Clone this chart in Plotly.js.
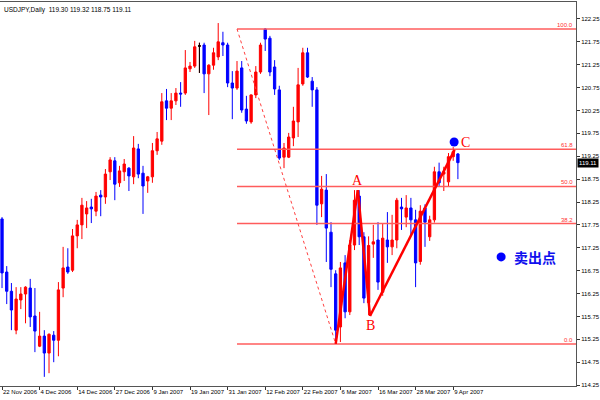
<!DOCTYPE html>
<html><head><meta charset="utf-8">
<script src="https://cdn.plot.ly/plotly-3.0.1.min.js"></script>
<style>body{margin:0;background:#fff}#c{width:600px;height:400px}</style>
</head><body><div id="c"></div>
<script>
const dates = ["2006-11-22","2006-11-23","2006-11-24","2006-11-27","2006-11-28","2006-11-29","2006-11-30",
"2006-12-01","2006-12-04","2006-12-05","2006-12-06","2006-12-07","2006-12-08","2006-12-11","2006-12-12","2006-12-13","2006-12-14","2006-12-15","2006-12-18","2006-12-19","2006-12-20","2006-12-21","2006-12-22","2006-12-26","2006-12-27","2006-12-28","2006-12-29",
"2007-01-02","2007-01-03","2007-01-04","2007-01-05","2007-01-08","2007-01-09","2007-01-10","2007-01-11","2007-01-12","2007-01-15","2007-01-16","2007-01-17","2007-01-18","2007-01-19","2007-01-22","2007-01-23","2007-01-24","2007-01-25","2007-01-26","2007-01-29","2007-01-30","2007-01-31",
"2007-02-01","2007-02-02","2007-02-05","2007-02-06","2007-02-07","2007-02-08","2007-02-09","2007-02-12","2007-02-13","2007-02-14","2007-02-15","2007-02-16","2007-02-19","2007-02-20","2007-02-21","2007-02-22","2007-02-23","2007-02-26","2007-02-27","2007-02-28",
"2007-03-01","2007-03-02","2007-03-05","2007-03-06","2007-03-07","2007-03-08","2007-03-09","2007-03-12","2007-03-13","2007-03-14","2007-03-15","2007-03-16","2007-03-19","2007-03-20","2007-03-21","2007-03-22","2007-03-23","2007-03-26","2007-03-27","2007-03-28","2007-03-29","2007-03-30",
"2007-04-02","2007-04-03","2007-04-04","2007-04-05","2007-04-06","2007-04-09","2007-04-10"];

const openP = [117.88,116.72,116.30,115.45,116.11,116.24,116.37,115.76,115.10,115.32,114.95,115.34,115.23,116.37,116.83,116.76,117.51,117.75,117.99,118.14,118.05,118.40,118.36,118.91,119.15,118.67,118.91,118.99,118.80,119.41,118.88,118.71,118.80,119.37,119.58,120.46,120.30,120.46,120.63,120.63,121.16,121.22,121.66,121.68,121.05,121.24,121.42,121.73,121.68,120.85,120.74,121.18,120.28,120.00,120.59,121.09,122.03,121.83,121.20,120.70,119.23,119.23,119.65,120.00,120.83,121.51,120.89,120.70,118.21,118.51,117.59,116.68,115.52,116.92,115.85,117.31,118.38,117.49,116.05,117.33,117.42,116.28,117.42,117.27,117.42,118.14,117.92,118.12,117.86,116.95,118.12,117.49,117.86,118.91,118.86,118.69,119.24,119.30];
const highP = [117.92,116.85,116.48,116.39,116.39,116.41,116.57,116.37,115.85,115.45,115.38,115.43,116.50,117.27,117.24,117.66,117.86,118.34,118.27,118.32,118.47,118.51,118.97,119.23,119.23,119.04,119.19,119.01,119.69,119.52,119.04,118.82,119.54,119.78,120.63,120.72,120.63,120.74,120.87,121.57,121.31,121.77,121.73,121.73,121.26,121.62,122.16,121.97,121.73,121.11,121.33,121.33,120.57,120.60,121.22,121.73,122.05,121.88,121.35,120.79,119.54,119.76,120.33,121.18,121.62,121.62,120.98,120.76,118.82,118.86,117.81,116.76,116.94,117.09,117.42,118.51,118.51,117.59,117.50,117.75,117.81,117.79,118.03,117.97,118.34,118.34,118.40,118.34,118.08,118.18,118.20,117.95,119.02,119.11,119.02,119.32,119.45,119.32];
const lowP = [116.37,116.02,115.45,115.36,115.91,115.60,115.52,114.97,115.08,114.43,114.51,114.75,114.88,116.17,116.68,116.72,117.24,117.44,117.68,117.79,117.94,117.94,118.21,118.73,118.29,118.58,118.71,118.49,118.64,118.77,117.99,118.45,118.67,119.28,119.50,120.04,120.04,120.37,120.33,120.59,121.09,121.18,121.07,120.63,120.15,121.14,121.35,121.44,120.76,120.06,120.70,120.20,119.96,119.96,120.52,121.05,121.55,121.00,120.59,119.17,118.99,119.21,119.47,119.67,120.79,120.96,120.33,117.75,117.92,116.94,116.39,115.15,115.19,115.71,115.78,117.20,117.31,116.04,115.78,117.03,116.33,116.20,116.92,117.09,117.24,117.64,117.70,117.53,116.39,116.88,117.27,117.40,117.80,118.60,118.49,118.60,119.15,118.75];
const closeP = [116.70,116.30,115.89,116.13,116.24,116.39,115.74,115.43,115.32,114.95,115.36,115.23,116.33,116.81,116.72,117.51,117.75,118.18,118.12,118.10,118.38,118.36,118.86,119.17,118.64,118.93,119.08,118.82,119.43,118.86,118.60,118.80,119.37,119.63,120.44,120.30,120.46,120.63,120.61,121.18,121.22,121.64,121.66,121.05,121.24,121.51,121.75,121.68,120.85,120.74,121.11,120.26,120.02,120.59,121.09,121.68,121.81,121.09,120.72,119.21,119.43,119.67,120.02,120.81,121.51,120.98,120.70,118.18,118.53,117.68,116.78,115.45,116.81,115.85,117.31,118.29,117.49,116.15,117.30,117.38,116.50,117.46,117.27,117.42,118.29,118.10,118.12,117.86,116.92,118.05,117.81,117.86,118.91,118.67,118.91,119.24,119.35,119.11];

const tickDates = ["2006-11-22","2006-12-04","2006-12-14","2006-12-27","2007-01-09","2007-01-19","2007-01-31","2007-02-12","2007-02-22","2007-03-06","2007-03-16","2007-03-28","2007-04-09"];
const tickLabels = ["22 Nov 2006","4 Dec 2006","14 Dec 2006","27 Dec 2006","9 Jan 2007","19 Jan 2007","31 Jan 2007","12 Feb 2007","22 Feb 2007","6 Mar 2007","16 Mar 2007","28 Mar 2007","9 Apr 2007"];
const yTicks = [114.25,114.75,115.25,115.75,116.25,116.75,117.25,117.75,118.25,118.75,119.25,119.75,120.25,120.75,121.25,121.75,122.25];

const fibHigh = 122.03, fibLow = 115.15;
const fibLevels = [0, 38.2, 50, 61.8, 100];
const fibHighDate = "2007-02-02", fibLowDate = "2007-03-05";

const waveNames = ["", "A", "B", "C"];
const wavePos = [71, 75.7, 78.3, 96.3];
const wavePrice = [115.15, 118.51, 115.76, 119.39];
const labelPos = [null, 75.7, 78.3, 98.7];
const labelPrice = [null, 118.73, 115.56, 119.54];

const dotPos = [96.2, 106.2];
const dotPrice = [119.56, 117.05];
const sellText = "卖出点";
const sellPos = 108.5, sellPrice = 117.05;

const header = "USDJPY,Daily  119.30 119.32 118.75 119.11";
const lastClose = closeP[closeP.length - 1];

const RED = "#ff0000", BLUE = "#0000ff";
const xRange = [-0.43, 122.13];

const doji = dates.map((d,i)=>i).filter(i => openP[i] === closeP[i]);

const traces = [{
  type: "candlestick", x: dates, open: openP, high: highP, low: lowP, close: closeP,
  increasing: {line: {color: RED, width: 1}, fillcolor: RED},
  decreasing: {line: {color: BLUE, width: 1}, fillcolor: BLUE},
  whiskerwidth: 0, hoverinfo: "skip", showlegend: false
}, {
  type: "candlestick", x: doji.map(i=>dates[i]), open: doji.map(i=>openP[i]), high: doji.map(i=>highP[i]),
  low: doji.map(i=>lowP[i]), close: doji.map(i=>closeP[i]),
  increasing: {line: {color: "#000", width: 1}, fillcolor: "#000"},
  decreasing: {line: {color: "#000", width: 1}, fillcolor: "#000"},
  whiskerwidth: 0, hoverinfo: "skip", showlegend: false
}];

const fibStart = dates.indexOf(fibHighDate);
const fibEnd = dates.indexOf(fibLowDate);
const shapes = [];
const annotations = [];
fibLevels.forEach(lv => {
  const p = fibLow + (fibHigh - fibLow) * lv / 100;
  shapes.push({type: "line", xref: "x", yref: "y", x0: fibStart, x1: xRange[1], y0: p, y1: p,
    line: {color: "#ff5c5c", width: 1.5}});
  annotations.push({xref: "paper", yref: "y", x: 1, y: p, xanchor: "right", yanchor: "bottom",
    text: lv.toFixed(1), showarrow: false, xshift: -1, yshift: -1,
    font: {family: "Liberation Sans", size: 6, color: "#ff3030"}});
});
shapes.push({type: "line", xref: "x", yref: "y", x0: fibStart, x1: fibEnd, y0: fibHigh, y1: fibLow,
  line: {color: "#ff4040", width: 1, dash: "dot"}});
for (let k = 0; k < wavePos.length - 1; k++) {
  shapes.push({type: "line", xref: "x", yref: "y", x0: wavePos[k], x1: wavePos[k+1],
    y0: wavePrice[k], y1: wavePrice[k+1], line: {color: RED, width: 2.5}});
}
for (let k = 1; k < waveNames.length; k++) {
  annotations.push({xref: "x", yref: "y", x: labelPos[k], y: labelPrice[k], text: waveNames[k],
    showarrow: false, font: {family: "Liberation Serif", size: 14, color: RED}});
}
dotPos.forEach((dp, k) => {
  shapes.push({type: "circle", xref: "x", yref: "y", xsizemode: "pixel", ysizemode: "pixel",
    xanchor: dp, yanchor: dotPrice[k], x0: -4.5, x1: 4.5, y0: -4.5, y1: 4.5,
    fillcolor: BLUE, line: {color: BLUE, width: 0}});
});
annotations.push({xref: "x", yref: "y", x: sellPos, y: sellPrice, xanchor: "left", yanchor: "middle",
  text: "<b>" + sellText + "</b>", showarrow: false,
  font: {family: "Noto Sans CJK SC", size: 14, color: "#1010ee"}});
annotations.push({xref: "paper", yref: "paper", x: 0, y: 1, xanchor: "left", yanchor: "top",
  text: header, showarrow: false, xshift: 2, yshift: -2,
  font: {family: "Liberation Sans", size: 6.5, color: "#000"}});
annotations.push({xref: "paper", yref: "y", x: 1, y: lastClose, xanchor: "left", yanchor: "middle",
  text: lastClose.toFixed(2), showarrow: false, bgcolor: "#000", borderpad: 1, xshift: 1,
  font: {family: "Liberation Sans", size: 6, color: "#fff"}});

const layout = {
  width: 600, height: 400,
  margin: {l: 0, r: 24, t: 2, b: 14},
  paper_bgcolor: "#fff", plot_bgcolor: "#fff",
  showlegend: false, hovermode: false,
  xaxis: {type: "category", range: xRange, rangeslider: {visible: false}, automargin: false,
    tickvals: tickDates, ticktext: tickLabels, ticks: "outside", ticklen: 3, tickcolor: "#333",
    tickangle: 0, ticklabelposition: "outside right",
    showgrid: false, zeroline: false, showline: true, mirror: true, linecolor: "#555", linewidth: 1,
    tickfont: {family: "Liberation Sans", size: 6, color: "#000"}},
  yaxis: {side: "right", range: [114.23, 122.62], tickvals: yTicks, ticktext: yTicks.map(v=>v.toFixed(2)),
    ticks: "outside", ticklen: 3, tickcolor: "#333", showgrid: false, zeroline: false, automargin: false,
    showline: true, linecolor: "#555", linewidth: 1,
    tickfont: {family: "Liberation Sans", size: 6, color: "#000"}},
  shapes: shapes, annotations: annotations
};
Plotly.newPlot("c", traces, layout, {displayModeBar: false, staticPlot: true});
</script></body></html>
